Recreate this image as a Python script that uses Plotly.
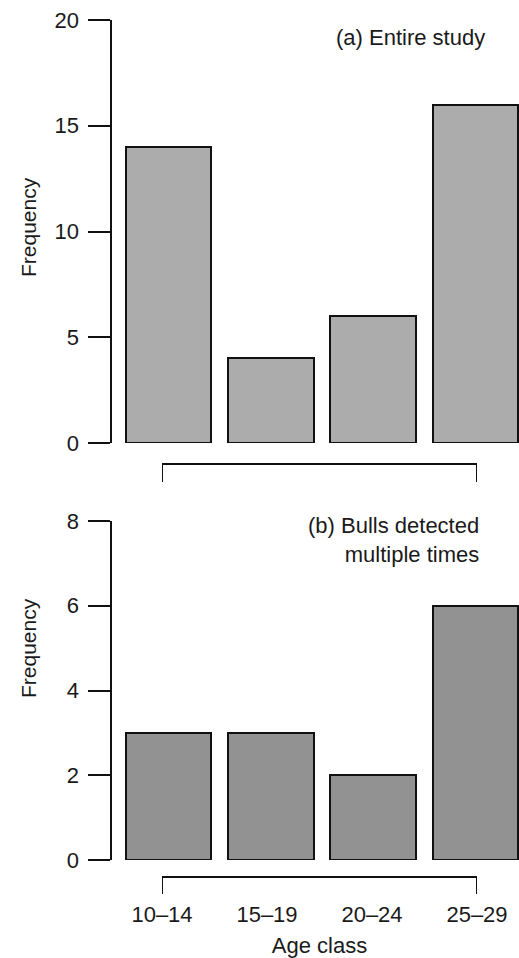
import plotly.graph_objects as go

# ---- data ----
age_classes = ["10–14", "15–19", "20–24", "25–29"]
freq_entire = [14, 4, 6, 16]
freq_multiple = [3, 3, 2, 6]
yticks_top = [0, 5, 10, 15, 20]
yticks_bottom = [0, 2, 4, 6, 8]
panel_a_label = "(a) Entire study"
panel_b_label = "(b) Bulls detected<br>multiple times"

W, H = 519, 958
FONT = "Liberation Sans, Arial, Helvetica, sans-serif"
TXT = "#1a1a1a"
FS = 22

def py(px):  # pixel row -> paper fraction
    return 1 - px / H

def pxf(px):  # pixel col -> paper fraction
    return px / W

pos = list(range(len(age_classes)))
# x range so bar centres land where the reference has them
scale = 102.33
x0 = -168.5 / scale
x1 = x0 + W / scale

fig = go.Figure()
fig.add_trace(go.Bar(x=pos, y=freq_entire, width=0.84, xaxis="x", yaxis="y",
                     marker=dict(color="#acacac", line=dict(color="#111111", width=2)),
                     cliponaxis=False, hoverinfo="skip"))
fig.add_trace(go.Bar(x=pos, y=freq_multiple, width=0.84, xaxis="x2", yaxis="y2",
                     marker=dict(color="#929292", line=dict(color="#111111", width=2)),
                     cliponaxis=False, hoverinfo="skip"))
# carrier traces for the bracket axes
fig.add_trace(go.Scatter(x=[0, len(age_classes) - 1], y=[None, None], xaxis="x3", yaxis="y2",
                         mode="lines", hoverinfo="skip", showlegend=False))
fig.add_trace(go.Scatter(x=[0, len(age_classes) - 1], y=[None, None], xaxis="x4", yaxis="y",
                         mode="lines", hoverinfo="skip", showlegend=False))

yax_common = dict(anchor="free", position=pxf(110.5), showline=True, linewidth=2,
                  linecolor="#111111", ticks="outside", ticklen=22, tickwidth=2,
                  tickcolor="#111111", showgrid=False, zeroline=False, automargin=False,
                  tickfont=dict(family=FONT, size=FS, color=TXT), ticklabelstandoff=4)

bracket_common = dict(domain=[pxf(162), pxf(477)], range=[0, len(age_classes) - 1],
                      anchor="free", showline=True, linewidth=2, linecolor="#111111",
                      showgrid=False, zeroline=False, tickvals=pos, ticks="outside",
                      ticklen=18, tickcolor="rgba(0,0,0,0)", automargin=False,
                      tickfont=dict(family=FONT, size=FS, color=TXT))

fig.update_layout(
    width=W, height=H, margin=dict(l=0, r=0, t=0, b=0, autoexpand=False),
    paper_bgcolor="white", plot_bgcolor="rgba(0,0,0,0)", showlegend=False, bargap=0,
    font=dict(family=FONT, color=TXT),
    xaxis=dict(domain=[0, 1], range=[x0, x1], anchor="y", visible=False, automargin=False),
    xaxis2=dict(domain=[0, 1], range=[x0, x1], anchor="y2", visible=False, automargin=False),
    yaxis=dict(domain=[py(443), py(20)], range=[0, 20], tickvals=yticks_top, **yax_common),
    yaxis2=dict(domain=[py(860), py(521)], range=[0, 8], tickvals=yticks_bottom, **yax_common),
    xaxis3=dict(position=py(876.5), ticktext=age_classes, showticklabels=True,
                title=dict(text="Age class", font=dict(family=FONT, size=FS, color=TXT), standoff=12),
                **bracket_common),
    xaxis4=dict(position=py(463.5), showticklabels=False, **bracket_common),
)

# bracket end ticks
shapes = []
for xr, ytop, ybot in [("x3", 876.5, 894), ("x4", 463.5, 482)]:
    for xv in (0, len(age_classes) - 1):
        shapes.append(dict(type="line", xref=xr, yref="paper", x0=xv, x1=xv,
                           y0=py(ytop), y1=py(ybot), line=dict(color="#111111", width=2)))
fig.update_layout(shapes=shapes)

annos = [
    dict(text="Frequency", textangle=-90, x=pxf(28), y=py(227), xref="paper", yref="paper",
         xanchor="center", yanchor="middle",
         showarrow=False, font=dict(family=FONT, size=21, color=TXT)),
    dict(text="Frequency", textangle=-90, x=pxf(28), y=py(648), xref="paper", yref="paper",
         xanchor="center", yanchor="middle",
         showarrow=False, font=dict(family=FONT, size=21, color=TXT)),
    dict(text=panel_a_label, x=pxf(487), y=py(37), xref="paper", yref="paper",
         xanchor="right", yanchor="middle", showarrow=False,
         font=dict(family=FONT, size=FS, color=TXT)),
    dict(text=panel_b_label, x=pxf(481), y=py(540), xref="paper", yref="paper",
         xanchor="right", yanchor="middle", align="right", showarrow=False,
         font=dict(family=FONT, size=FS, color=TXT)),
]
fig.update_layout(annotations=annos)

fig.write_html("out.html")
